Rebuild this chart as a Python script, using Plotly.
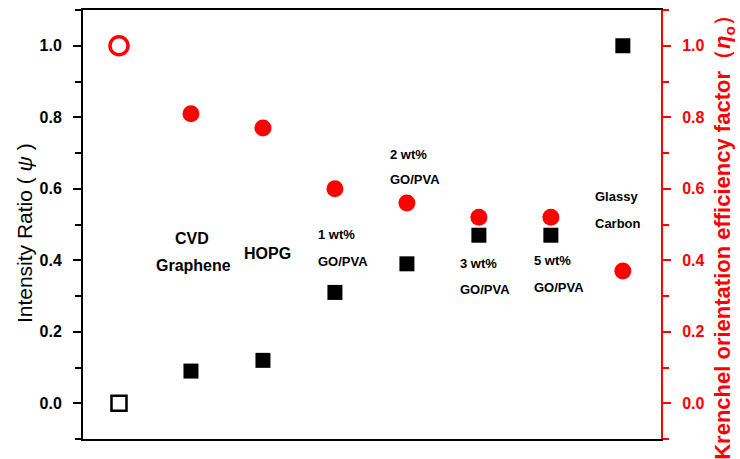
import plotly.graph_objects as go

# Samples along the x axis (index positions)
samples = ["Perfect", "CVD Graphene", "HOPG", "1 wt% GO/PVA", "2 wt% GO/PVA",
           "3 wt% GO/PVA", "5 wt% GO/PVA", "Glassy Carbon"]
positions = list(range(len(samples)))

# Intensity ratio (psi) – left axis
intensity_ratio = [0.0, 0.09, 0.12, 0.31, 0.39, 0.47, 0.47, 1.0]
# Krenchel orientation efficiency factor – right axis
krenchel = [1.0, 0.81, 0.77, 0.60, 0.56, 0.52, 0.52, 0.37]

# Two-line sample labels placed inside the plot
# (x, y, text, font size, horizontal anchor)
labels = [
    (1.01, 0.461, "CVD", 16, "center"),
    (1.03, 0.386, "Graphene", 16, "center"),
    (2.07, 0.419, "HOPG", 16, "center"),
    (2.73, 0.472, "1 wt%", 13, "left"),
    (2.73, 0.397, "GO/PVA", 13, "left"),
    (3.74, 0.697, "2 wt%", 13, "left"),
    (3.74, 0.625, "GO/PVA", 13, "left"),
    (4.71, 0.392, "3 wt%", 13, "left"),
    (4.71, 0.319, "GO/PVA", 13, "left"),
    (5.74, 0.400, "5 wt%", 13, "left"),
    (5.74, 0.325, "GO/PVA", 13, "left"),
    (6.58, 0.578, "Glassy", 13, "left"),
    (6.58, 0.503, "Carbon", 13, "left"),
]

FONT = "Liberation Sans, Arial, sans-serif"
RED = "#ff0000"

fig = go.Figure()

# Intensity ratio: first point open, the rest filled squares
fig.add_trace(go.Scatter(
    x=positions[:1], y=intensity_ratio[:1], mode="markers", yaxis="y",
    marker=dict(symbol="square-open", size=15, color="black", line=dict(width=2.5)),
    showlegend=False, cliponaxis=False))
fig.add_trace(go.Scatter(
    x=positions[1:], y=intensity_ratio[1:], mode="markers", yaxis="y",
    marker=dict(symbol="square", size=15, color="black"),
    showlegend=False, cliponaxis=False))

# Krenchel factor: first point open, the rest filled circles
fig.add_trace(go.Scatter(
    x=positions[:1], y=krenchel[:1], mode="markers", yaxis="y2",
    marker=dict(symbol="circle-open", size=18, color=RED, line=dict(width=3.5)),
    showlegend=False, cliponaxis=False))
fig.add_trace(go.Scatter(
    x=positions[1:], y=krenchel[1:], mode="markers", yaxis="y2",
    marker=dict(symbol="circle", size=17, color=RED),
    showlegend=False, cliponaxis=False))

for xi, yi, txt, fs, anchor in labels:
    fig.add_annotation(x=xi, y=yi, xref="x", yref="y", text=f"<b>{txt}</b>",
                       showarrow=False, xanchor=anchor,
                       font=dict(family=FONT, size=fs, color="black"))

# Axis titles
fig.add_annotation(x=-0.102, y=0.48, xref="paper", yref="paper",
                   text="Intensity Ratio ( <i>ψ</i> )", textangle=-90, showarrow=False,
                   xanchor="center", yanchor="middle",
                   font=dict(family=FONT, size=21, color="black"))
fig.add_annotation(x=1.109, y=0.483, xref="paper", yref="paper",
                   text="<b>Krenchel orientation efficiency factor（<i>η</i><sub>o</sub>）</b>",
                   textangle=-90, showarrow=False, xanchor="center", yanchor="middle",
                   font=dict(family=FONT, size=22, color=RED))

tick_vals = [0.0, 0.2, 0.4, 0.6, 0.8, 1.0]
tick_text = [f"<b>{v:.1f}</b>" for v in tick_vals]

fig.update_layout(
    width=740, height=459,
    margin=dict(l=83, r=79, t=8, b=20),
    paper_bgcolor="white", plot_bgcolor="white",
    font=dict(family=FONT),
    xaxis=dict(range=[-0.5, 7.53], showticklabels=False, ticks="",
               showgrid=False, zeroline=False, showline=True, linecolor="black",
               linewidth=2, mirror=True),
    yaxis=dict(range=[-0.1, 1.1], tickvals=tick_vals, ticktext=tick_text,
               ticks="outside", ticklen=8, tickwidth=1.5, tickcolor="black",
               ticklabelstandoff=8,
               minor=dict(dtick=0.1, tick0=0.1, ticks="outside", ticklen=6,
                          tickcolor="black", tickwidth=1.5),
               showgrid=False, zeroline=False, showline=True, linecolor="black", linewidth=2,
               tickfont=dict(family=FONT, size=16, color="black")),
    yaxis2=dict(range=[-0.1, 1.1], overlaying="y", side="right",
                tickvals=tick_vals, ticktext=tick_text,
                ticks="outside", ticklen=8, tickwidth=1.5, tickcolor=RED,
                ticklabelstandoff=8,
                minor=dict(dtick=0.1, tick0=0.1, ticks="outside", ticklen=6,
                           tickcolor=RED, tickwidth=1.5),
                showgrid=False, zeroline=False, showline=True, linecolor=RED, linewidth=2,
                tickfont=dict(family=FONT, size=16, color=RED)),
)

fig.write_html("out.html")
